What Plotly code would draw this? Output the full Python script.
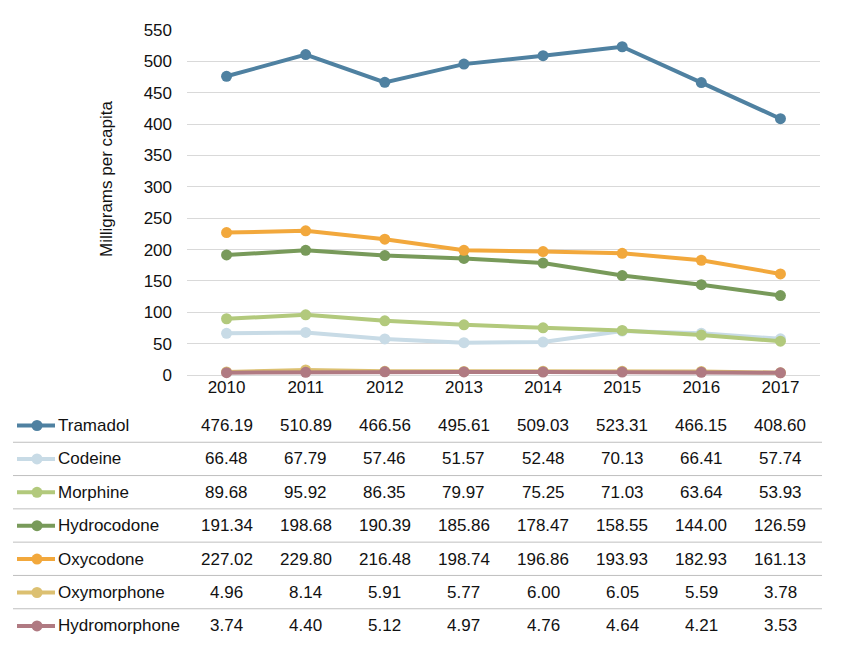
import plotly.graph_objects as go

years = ["2010", "2011", "2012", "2013", "2014", "2015", "2016", "2017"]
drugs = ["Tramadol", "Codeine", "Morphine", "Hydrocodone", "Oxycodone", "Oxymorphone", "Hydromorphone"]
tramadol = [476.19, 510.89, 466.56, 495.61, 509.03, 523.31, 466.15, 408.60]
codeine = [66.48, 67.79, 57.46, 51.57, 52.48, 70.13, 66.41, 57.74]
morphine = [89.68, 95.92, 86.35, 79.97, 75.25, 71.03, 63.64, 53.93]
hydrocodone = [191.34, 198.68, 190.39, 185.86, 178.47, 158.55, 144.00, 126.59]
oxycodone = [227.02, 229.80, 216.48, 198.74, 196.86, 193.93, 182.93, 161.13]
oxymorphone = [4.96, 8.14, 5.91, 5.77, 6.00, 6.05, 5.59, 3.78]
hydromorphone = [3.74, 4.40, 5.12, 4.97, 4.76, 4.64, 4.21, 3.53]
yticks = [0, 50, 100, 150, 200, 250, 300, 350, 400, 450, 500, 550]

series = [tramadol, codeine, morphine, hydrocodone, oxycodone, oxymorphone, hydromorphone]
colors = ["#4f81a1", "#c8dbe6", "#b2c97c", "#789a5a", "#f2a83c", "#dcc071", "#b07a82"]

# page has an 8px body margin; target positions below are screen pixels
OFF = 8
W, H = 841, 648
L = 187 - OFF
T = 30 - OFF
R = W - (820 - OFF)
B = H - (375 - OFF)
pw = W - L - R
ph = H - T - B

def px_x(px):
    return (px - OFF - L) / pw

def px_y(py):
    return (H - B - (py - OFF)) / ph

FONT = "Liberation Sans, Arial, sans-serif"
FS = 17

fig = go.Figure()
order = [1, 2, 3, 4, 5, 6, 0]
for i in order:
    fig.add_trace(go.Scatter(
        x=list(range(len(years))), y=series[i], name=drugs[i], mode="lines+markers",
        line=dict(color=colors[i], width=4),
        marker=dict(color=colors[i], size=11),
        cliponaxis=False, showlegend=False,
    ))

shapes = []
annotations = []
row_y = [425.5 + 33.4 * k for k in range(len(drugs))]
for k, name in enumerate(drugs):
    yp = px_y(row_y[k])
    shapes.append(dict(type="line", xref="paper", yref="paper",
                       x0=px_x(17), x1=px_x(55), y0=yp, y1=yp,
                       line=dict(color=colors[k], width=4)))
    shapes.append(dict(type="circle", xref="paper", yref="paper",
                       x0=px_x(31.5), x1=px_x(42.5), y0=px_y(row_y[k] + 5.5), y1=px_y(row_y[k] - 5.5),
                       fillcolor=colors[k], line=dict(width=0)))
    annotations.append(dict(xref="paper", yref="paper", x=px_x(56), y=yp,
                            text=name, showarrow=False, xanchor="left", yanchor="middle",
                            font=dict(size=FS, color="#111", family=FONT)))
    for j in range(len(years)):
        annotations.append(dict(xref="x", yref="paper", x=j, y=yp,
                                text=f"{series[k][j]:.2f}", showarrow=False,
                                xanchor="center", yanchor="middle",
                                font=dict(size=FS, color="#111", family=FONT)))
    if k < len(drugs) - 1:
        sy = px_y(442.25 + 33.3 * k)
        shapes.append(dict(type="line", xref="paper", yref="paper",
                           x0=px_x(13), x1=px_x(822), y0=sy, y1=sy,
                           line=dict(color="#bfbfbf", width=1)))

annotations.append(dict(xref="paper", yref="paper", x=px_x(106), y=px_y(179),
                        text="Milligrams per capita", textangle=-90, showarrow=False,
                        xanchor="center", yanchor="middle",
                        font=dict(size=FS, color="#111", family=FONT)))

fig.update_layout(
    width=W, height=H,
    margin=dict(l=L, r=R, t=T, b=B),
    paper_bgcolor="white", plot_bgcolor="white",
    font=dict(family=FONT, size=FS, color="#111"),
    shapes=shapes, annotations=annotations,
    xaxis=dict(range=[-0.5, len(years) - 0.5], tickvals=list(range(len(years))),
               ticktext=years, showgrid=False, showline=False, ticks="", zeroline=False,
               tickfont=dict(size=FS, color="#111")),
    yaxis=dict(range=[0, 550], tickvals=yticks, showgrid=True, gridcolor="#d9d9d9",
               gridwidth=1, zeroline=True, zerolinecolor="#d9d9d9", zerolinewidth=1,
               showline=False, ticks="", ticklabelstandoff=14,
               tickfont=dict(size=FS, color="#111")),
)

fig.write_html("out.html")
